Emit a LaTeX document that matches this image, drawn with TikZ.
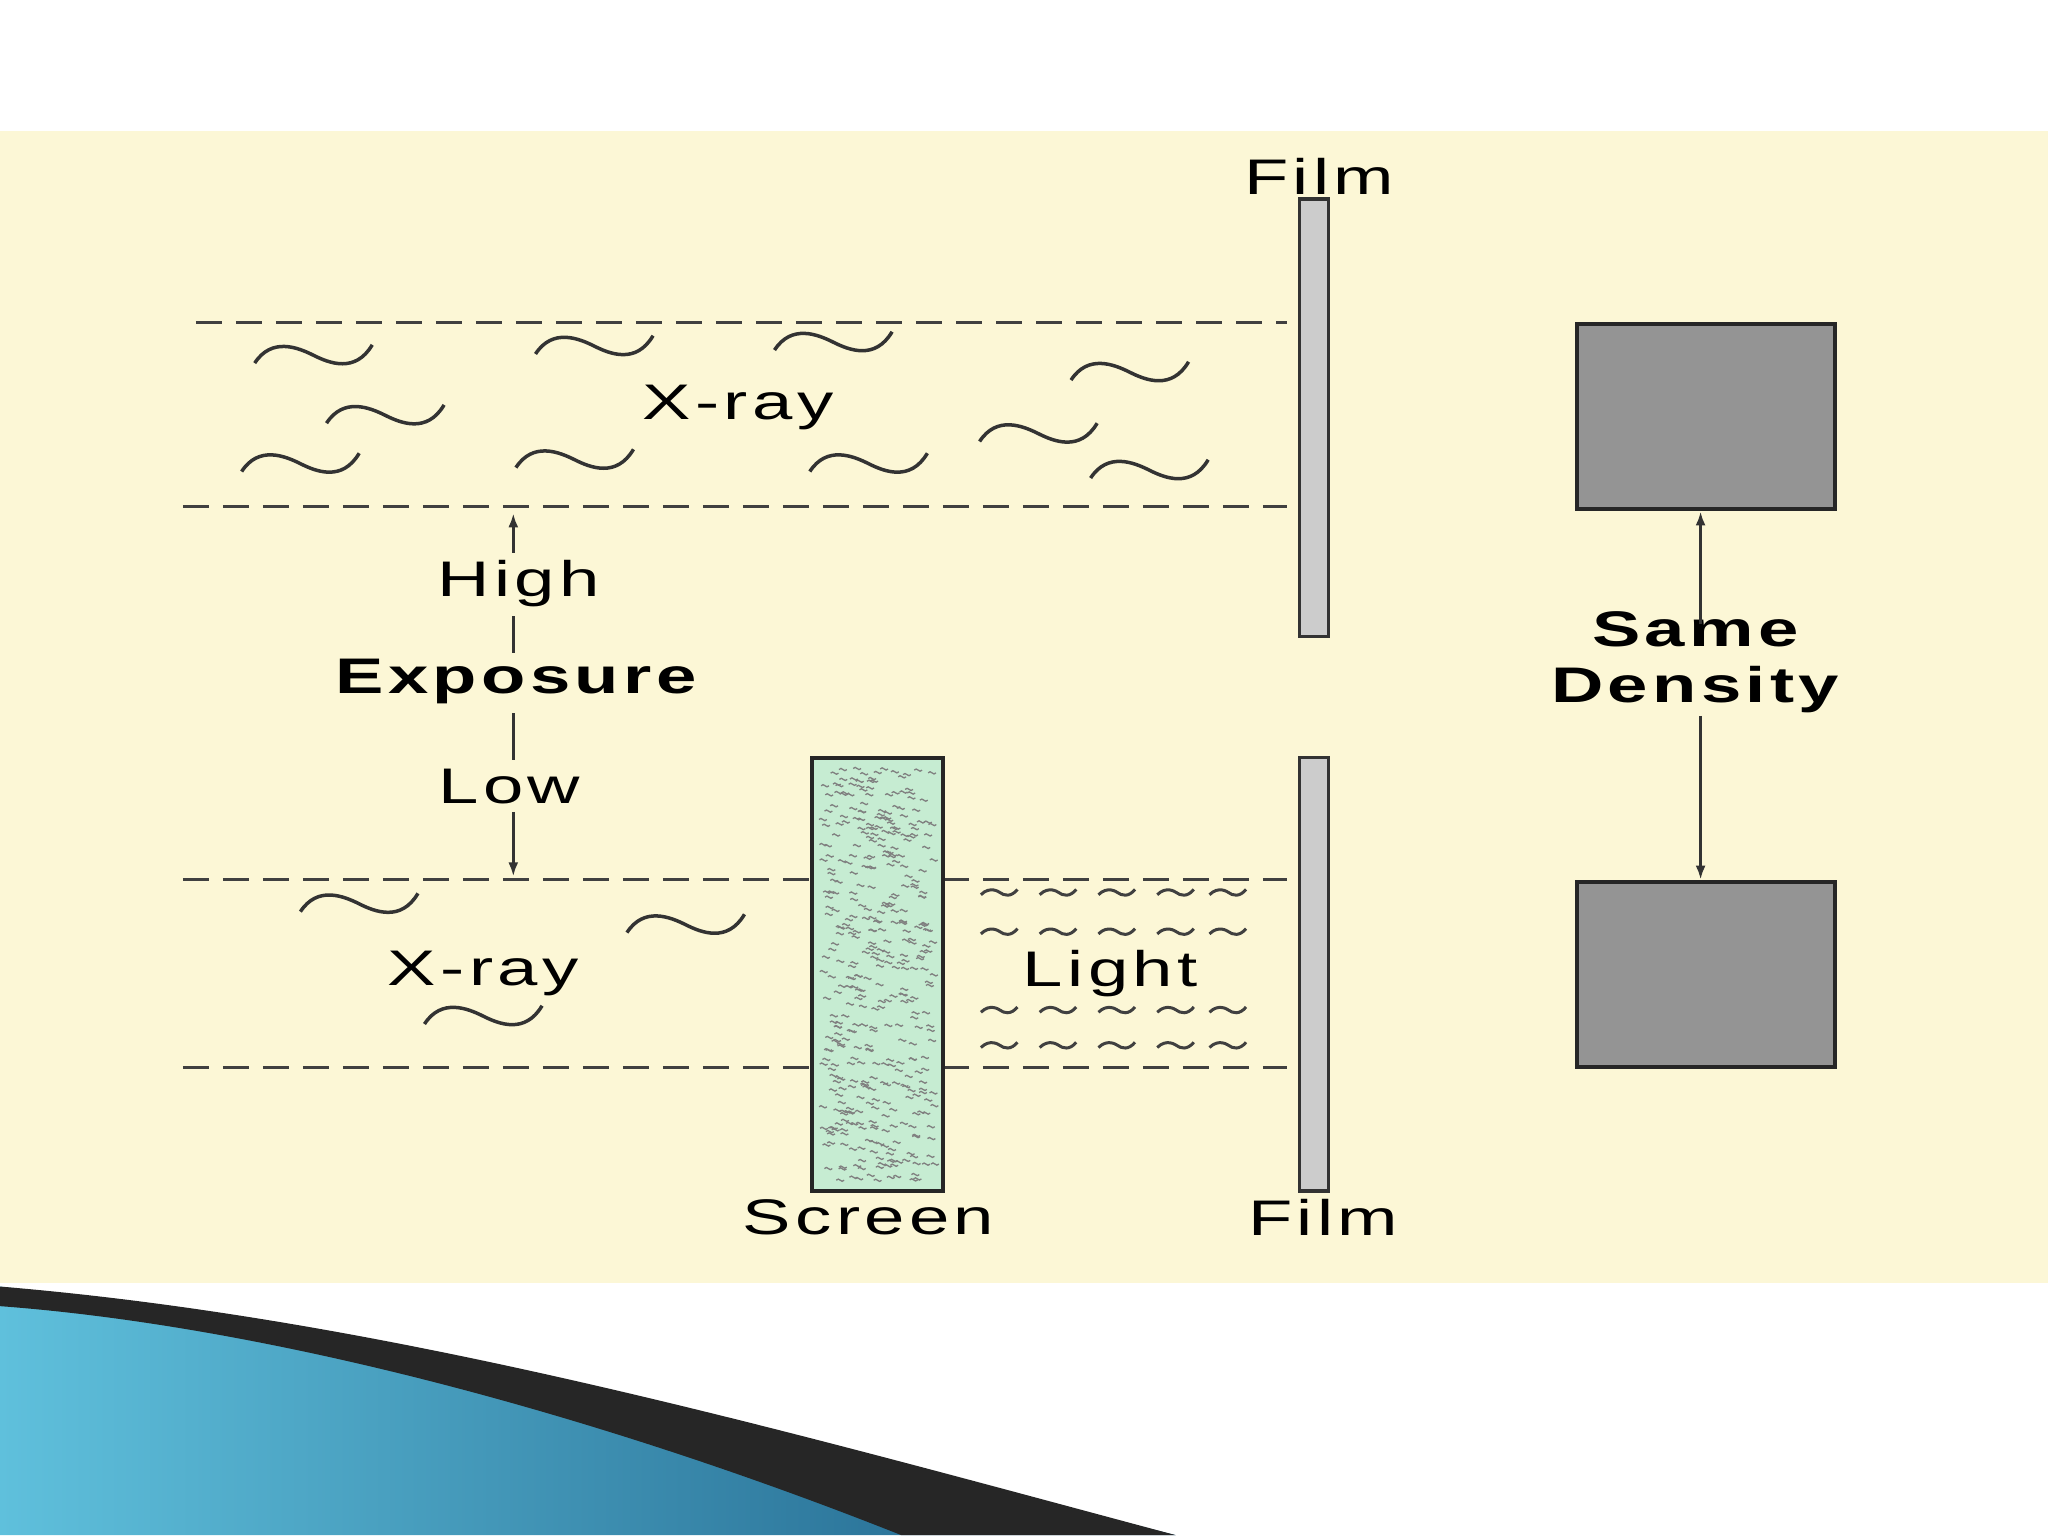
\documentclass[tikz,border=0pt]{standalone}
\usepackage{fontspec}
\usetikzlibrary{arrows.meta}
\setmainfont{Liberation Sans}[LetterSpace=6]
\definecolor{bg}{HTML}{FCF7D6}
\definecolor{scrn}{HTML}{C6ECD2}
\definecolor{swA}{HTML}{5FC0DC}
\definecolor{swB}{HTML}{1C5E86}
\begin{document}
\begin{tikzpicture}[x=1.306pt,y=-1.306pt,
  txt/.style={font=\fontsize{50}{56}\selectfont,xscale=1.45,inner sep=0},
  btxt/.style={font=\fontsize{50}{56}\selectfont\bfseries,xscale=1.45,inner sep=0,align=center},
  dline/.style={dash pattern=on 26pt off 14pt,line width=3pt,black!75},
  filmbar/.style={draw=black!80,line width=3.5pt,fill=black!20},
  dens/.style={draw=black!85,line width=4pt,fill=black!42},
  arr/.style={-{Latex[length=14pt,width=10pt]},line width=3pt,black!80},
  wv/.pic={\draw[line width=3.5pt,black!80] (-45,6) .. controls (-32,-14) and (-12,-6) .. (0,0) .. controls (12,6) and (32,14) .. (45,-8);},
  lw/.pic={\draw[line width=3pt,black!75] (-14,2) .. controls (-7,-5) and (0,0) .. (0,0) .. controls (4,3) and (9,4) .. (14,-2);}]
\useasboundingbox (0,0) rectangle (1568,1175.3);
\fill[white] (0,0) rectangle (1568,1175.3);
\fill[bg] (0,100) rectangle (1568,982);
% swoosh
\shade[left color=swA,right color=swB] (0,985) .. controls (300,1020) and (600,1100) .. (900,1175.3) -- (0,1175.3) -- cycle;
\fill[black!85] (0,985) .. controls (300,1010) and (600,1095) .. (900,1175.3) -- (690,1175.3) .. controls (450,1080) and (200,1015) .. (0,1000) -- cycle;
% dashed lines
\draw[dline] (150,247) -- (985,247);
\draw[dline] (140,388) -- (985,388);
\draw[dline] (140,673) -- (985,673);
\draw[dline] (140,817) -- (985,817);
% films
\node[filmbar,minimum width=22*1.306pt,minimum height=335*1.306pt,inner sep=0] (filmT) at (1006,320) {};
\node[filmbar,minimum width=22*1.306pt,minimum height=332*1.306pt,inner sep=0] (filmB) at (1006,746) {};
\node[txt] (lfT) at (1010,135) {Film};
\node[txt] (lfB) at (1013,932) {Film};
% screen
\node[draw=black!85,line width=4pt,fill=scrn,minimum width=100*1.306pt,minimum height=332*1.306pt,inner sep=0] (scr) at (672,746) {};
\pgfmathsetseed{7}
\foreach \i in {1,...,420}{
  \pgfmathsetmacro{\xx}{627+rnd*86}\pgfmathsetmacro{\yy}{586+rnd*318}
  \draw[black!50,line width=1.3pt] (\xx,\yy) .. controls (\xx+2,\yy-3) and (\xx+4,\yy+3) .. (\xx+6,\yy);
}
\node[txt] (lscr) at (665,932) {Screen};
% density squares
\node[dens,minimum width=198*1.306pt,minimum height=142*1.306pt,inner sep=0] (sqT) at (1306,319) {};
\node[dens,minimum width=198*1.306pt,minimum height=142*1.306pt,inner sep=0] (sqB) at (1306,746) {};
\node[btxt] (same) at (1298,507) {Same\\Density};
\draw[arr] (1302,478) -- (sqT.south -| 1302,0);
\draw[arr] (1302,548) -- (sqB.north -| 1302,0);
% exposure
\node[txt] (high) at (397,447) {High};
\node[btxt] (expo) at (395,522) {Exposure};
\node[txt] (low) at (390,602) {Low};
\coordinate (hi) at (393,393);
\coordinate (lo) at (393,671);
\draw[arr] (high.north -| 393,0) ++(0,-6) -- (hi);
\draw[line width=3pt,black!80] (393,472) -- (393,500);
\draw[line width=3pt,black!80] (393,546) -- (393,582);
\draw[arr] (low.south -| 393,0) ++(0,6) -- (lo);
% x-rays
\node[txt] (xrT) at (565,312) {X-ray};
\node[txt] (xrB) at (370,745) {X-ray};
\node[txt] (light) at (850,745) {Light};
\foreach \p in {(240,272),(455,265),(638,262),(865,285),(295,318),(795,332),(230,355),(440,352),(665,355),(880,360),(275,692),(525,708),(370,778)}
  \pic at \p {wv};
\foreach \yy in {683,713,773,800}
  \foreach \xx in {765,810,855,900,940}
    \pic at (\xx,\yy) {lw};
\end{tikzpicture}
\end{document}
